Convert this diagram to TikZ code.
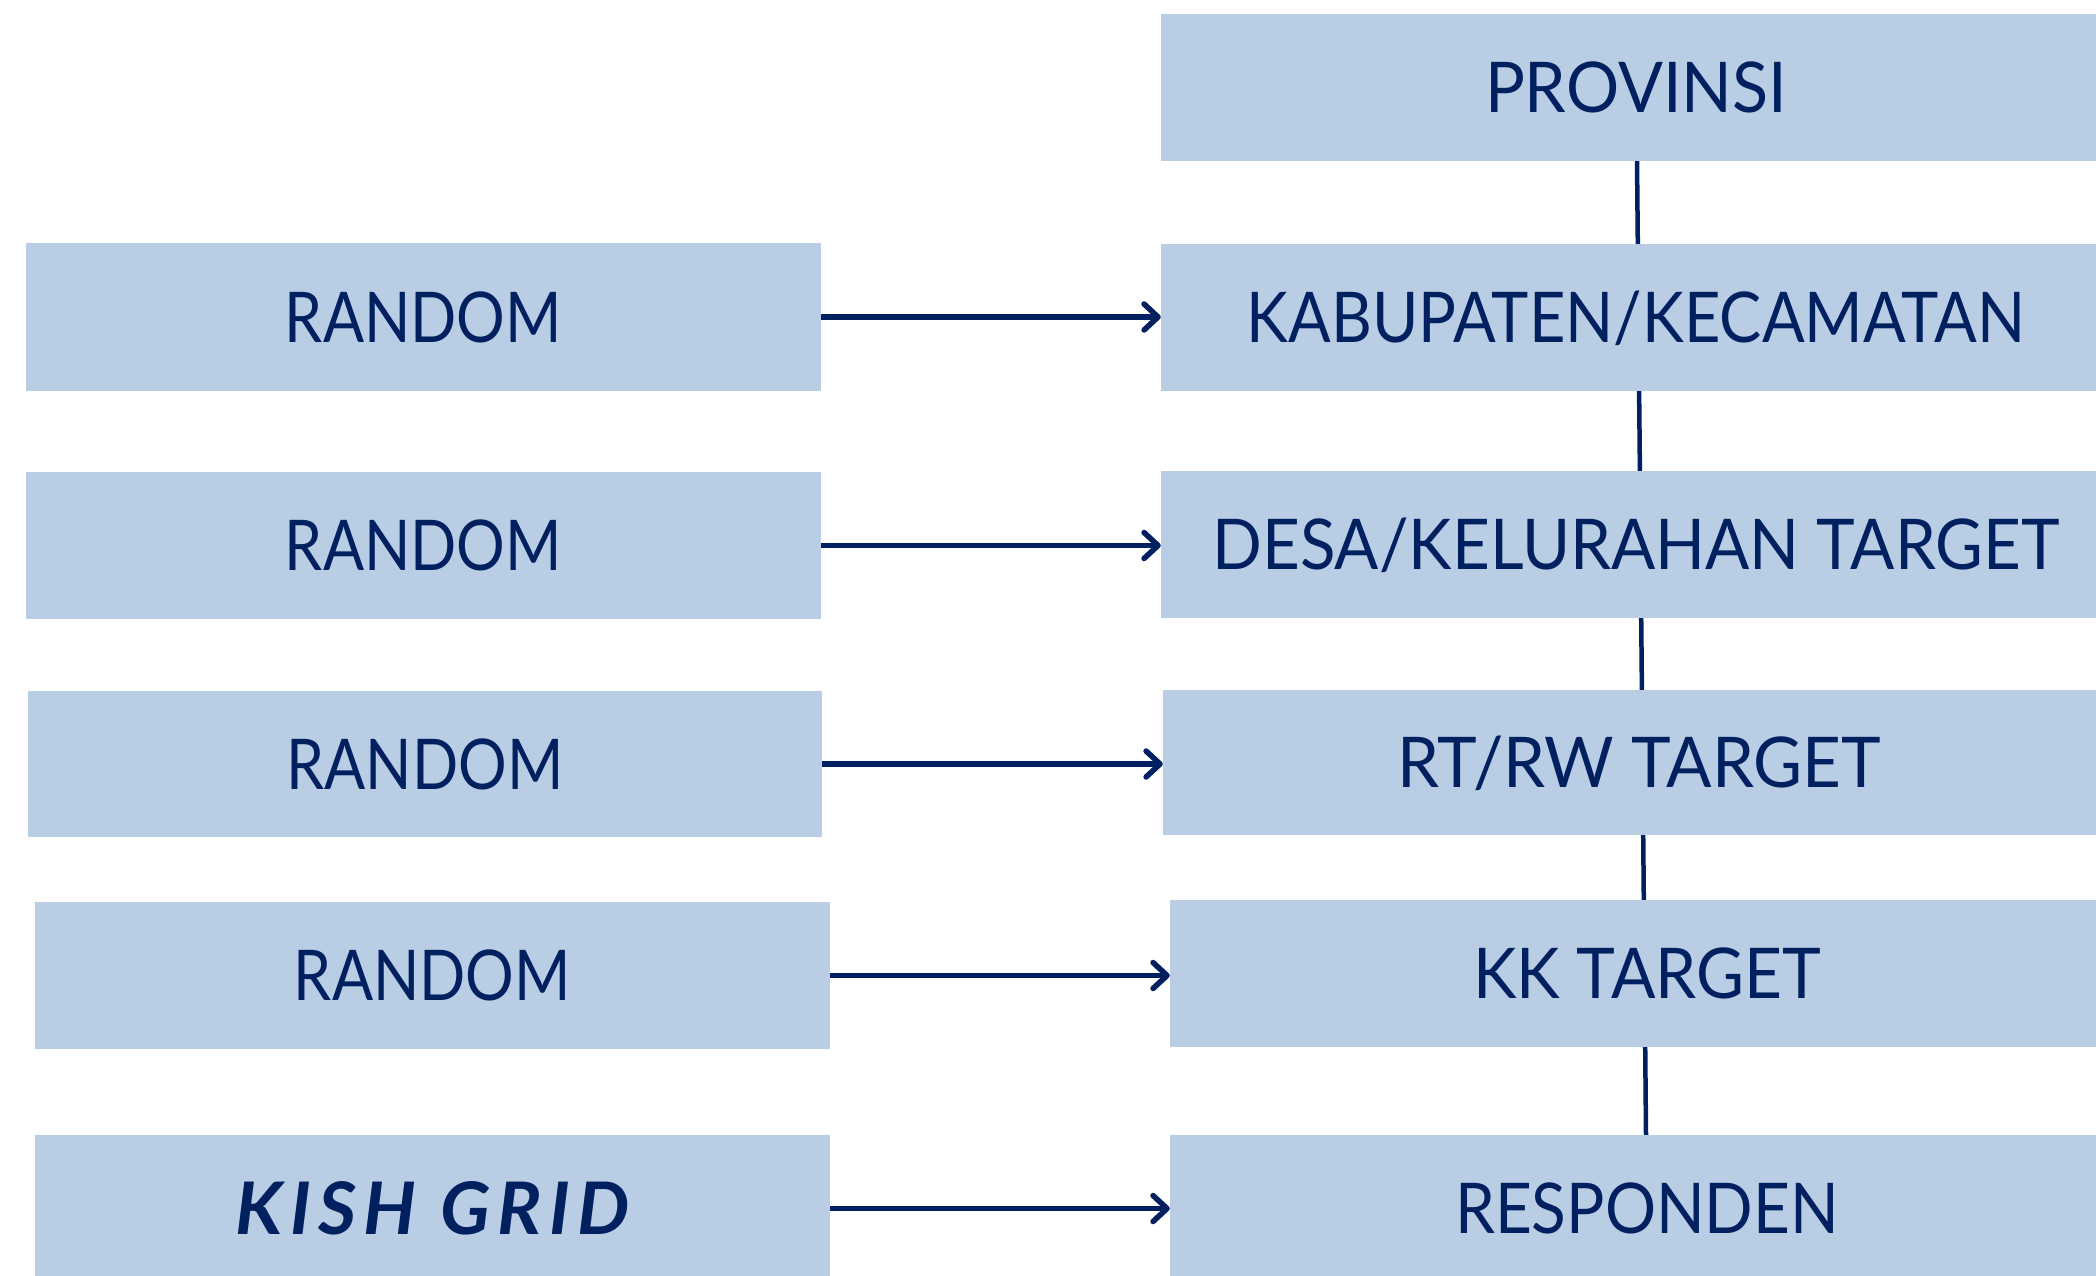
\documentclass[tikz,border=0pt]{standalone}
\usepackage{fontspec}
\usepackage{graphicx}
\usetikzlibrary{arrows.meta}
\newfontfamily\boxfont{Lato}
\definecolor{boxfill}{HTML}{B9CDE5}
\definecolor{navy}{HTML}{002060}
\newcommand\fitt[2]{\resizebox{#1}{\height}{#2}}
\tikzset{
  stagebox/.style={fill=boxfill, draw=none, inner sep=0pt, text=navy,
    font=\boxfont\fontsize{70}{80}\selectfont, text height=50pt, text depth=0pt},
  flowarrow/.style={draw=navy, line width=5.5pt,
    -{Straight Barb[length=14pt,width=26pt,line width=5.5pt,round]}},
  linkline/.style={draw=navy, line width=4.5pt}
}
\begin{document}
\begin{tikzpicture}[x=1pt,y=-1pt]
\useasboundingbox (0,0) rectangle (2096,1276);
\clip (0,0) rectangle (2096,1276);
% right column
\node[stagebox, minimum width=950pt, minimum height=147pt] (prov) at (1636,87.5) {\fitt{302pt}{PROVINSI}};
\node[stagebox, minimum width=950pt, minimum height=147pt] (kab) at (1636,317.5) {\fitt{778pt}{KABUPATEN/KECAMATAN}};
\node[stagebox, minimum width=950pt, minimum height=147pt] (desa) at (1636,544.5) {\fitt{847pt}{DESA/KELURAHAN TARGET}};
\node[stagebox, minimum width=952pt, minimum height=145pt] (rtrw) at (1639,762.5) {\fitt{484pt}{RT/RW TARGET}};
\node[stagebox, minimum width=954pt, minimum height=147pt] (kk) at (1647,973.5) {\fitt{348pt}{KK TARGET}};
\node[stagebox, minimum width=954pt, minimum height=147pt] (resp) at (1647,1208.5) {\fitt{384pt}{RESPONDEN}};
% left column
\node[stagebox, minimum width=795pt, minimum height=148pt] (r1) at (423.5,317) {\fitt{277pt}{RANDOM}};
\node[stagebox, minimum width=795pt, minimum height=147pt] (r2) at (423.5,545.5) {\fitt{277pt}{RANDOM}};
\node[stagebox, minimum width=794pt, minimum height=146pt] (r3) at (425,764) {\fitt{277pt}{RANDOM}};
\node[stagebox, minimum width=795pt, minimum height=147pt] (r4) at (432.5,975.5) {\fitt{277pt}{RANDOM}};
\node[stagebox, minimum width=795pt, minimum height=147pt, text height=52pt,
  font=\boxfont\bfseries\itshape\fontsize{72.5}{80}\selectfont\addfontfeature{LetterSpace=10}] (kish) at (432.5,1208.5) {\fitt{394pt}{KISH GRID}};
% arrows
\draw[flowarrow] (r1.east) -- (r1.east -| kab.west);
\draw[flowarrow] (r2.east) -- (r2.east -| desa.west);
\draw[flowarrow] (r3.east) -- (r3.east -| rtrw.west);
\draw[flowarrow] (r4.east) -- (r4.east -| kk.west);
\draw[flowarrow] (kish.east) -- (kish.east -| resp.west);
% vertical links
\draw[linkline] ([xshift=1pt]prov.south) -- ([xshift=1.8pt]kab.north);
\draw[linkline] ([xshift=3.1pt]kab.south) -- ([xshift=3.9pt]desa.north);
\draw[linkline] ([xshift=5.2pt]desa.south) -- ([xshift=2.9pt]rtrw.north);
\draw[linkline] ([xshift=4.2pt]rtrw.south) -- ([xshift=-3.2pt]kk.north);
\draw[linkline] ([xshift=-1.8pt]kk.south) -- ([xshift=-1pt]resp.north);
\end{tikzpicture}
\end{document}
